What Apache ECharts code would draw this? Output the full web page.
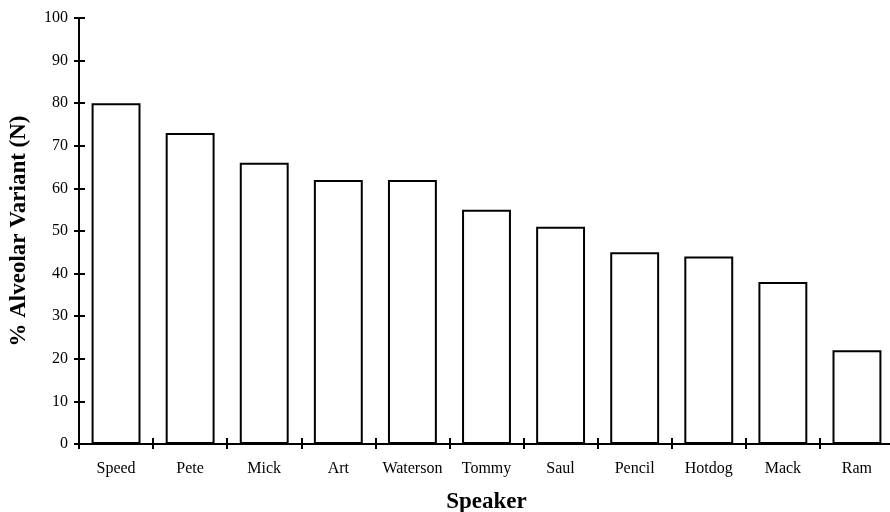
<!DOCTYPE html>
<html>
<head>
<meta charset="utf-8">
<script src="https://cdn.jsdelivr.net/npm/echarts@6/dist/echarts.min.js"></script>
<style>
html,body{margin:0;padding:0;background:#fff;}
#chart{width:890px;height:512px;}
</style>
</head>
<body>
<div id="chart"></div>
<script>
var categories = ['Speed','Pete','Mick','Art','Waterson','Tommy','Saul','Pencil','Hotdog','Mack','Ram'];
var values = [80, 73, 66, 62, 62, 55, 51, 45, 44, 38, 22];
var yTicks = [0,10,20,30,40,50,60,70,80,90,100];

var FONT = "'Liberation Serif','Times New Roman',serif";
var chart = echarts.init(document.getElementById('chart'), null, {renderer:'canvas'});
chart.setOption({
  animation: false,
  backgroundColor: '#fff',
  grid: {left: 79, top: 18, bottom: 68, right: -4, containLabel: false, outerBoundsMode: 'none'},
  xAxis: [{
    type: 'category', data: categories, position: 'bottom',
    axisLine: {show: true, lineStyle: {color: '#000', width: 2}},
    axisTick: {show: true, inside: false, length: 5, lineStyle: {color: '#000', width: 2}},
    axisLabel: {color: '#000', fontFamily: FONT, fontSize: 16, margin: 17, interval: 0},
    name: 'Speaker', nameLocation: 'middle', nameGap: 47,
    nameTextStyle: {color: '#000', fontFamily: FONT, fontSize: 23, fontWeight: 'bold'}
  },{
    type: 'category', data: categories, position: 'bottom',
    axisLine: {show: false},
    axisTick: {show: true, inside: true, length: 6, lineStyle: {color: '#000', width: 2}},
    axisLabel: {show: false}
  }],
  yAxis: [{
    type: 'value', min: 0, max: 100, interval: 10, position: 'left',
    axisLine: {show: true, lineStyle: {color: '#000', width: 2}},
    axisTick: {show: true, inside: false, length: 5, lineStyle: {color: '#000', width: 2}},
    axisLabel: {color: '#000', fontFamily: FONT, fontSize: 16, margin: 11,
      formatter: function(v){ return yTicks.indexOf(v) >= 0 ? String(v) : ''; }},
    splitLine: {show: false},
    name: '% Alveolar Variant (N)', nameLocation: 'middle', nameGap: 48,
    nameTextStyle: {color: '#000', fontFamily: FONT, fontSize: 23, fontWeight: 'bold'}
  },{
    type: 'value', min: 0, max: 100, interval: 10, position: 'left',
    axisLine: {show: false},
    axisTick: {show: true, inside: true, length: 6, lineStyle: {color: '#000', width: 2}},
    axisLabel: {show: false},
    splitLine: {show: false}
  }],
  series: [{
    type: 'bar', data: values, barWidth: '66%',
    xAxisIndex: 0, yAxisIndex: 0,
    itemStyle: {color: '#fff', borderColor: '#000', borderWidth: 2}
  }]
});
</script>
</body>
</html>
